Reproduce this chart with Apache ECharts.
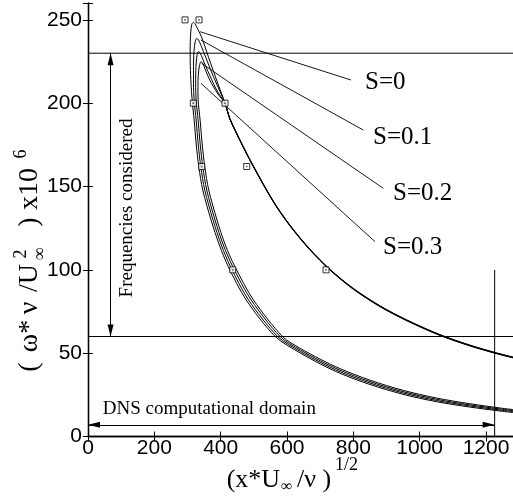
<!DOCTYPE html>
<html>
<head>
<meta charset="utf-8">
<script src="https://cdn.jsdelivr.net/npm/echarts@6/dist/echarts.min.js"></script>
<style>
html, body { margin: 0; padding: 0; background: #fff; }
#chart { width: 513px; height: 497px; }
</style>
</head>
<body>
<div id="chart"></div>
<script>
// Axis ticks
const xTickValues = [0, 200, 400, 600, 800, 1000, 1200];
const yTickValues = [0, 50, 100, 150, 200, 250];
const xMax = 1300;
const yMax = 260;

// Neutral curves: each runs up the lower branch, round the nose and back down the upper branch
const curveS0 = [
  [1300,14.05],[1250,15.1],[1150,17.7],[1050,20.9],[950,25.3],[850,31.2],[760,37.9],[700,43.6],[640,50.1],
  [565,59.9],[477,81.9],[423,101.9],[396,114.9],[371,129.9],[346,147.9],[334,161.9],[326.5,174.9],[320,189.9],
  [314,201.9],[310.5,212],[308.5,222],[308,232],[309.5,242],[313,247.3],[317.5,248.5],[323,247.5],[332,244],
  [342.8,239.5],[362.7,228],[392.9,211],[413,200.25],[428,190.75],[460,177.25],[497.5,162.75],[558.7,141.25],
  [610,126.55],[669,112.45],[730,100.25],[800,88.85],[880,78.45],[960,70.05],[1061,61.15],[1150,54.95],[1227,50.45],[1300,46.75]
];
const curveS01 = [
  [1300,14.62],[1250,15.7],[1150,18.37],[1050,21.63],[950,26.1],[850,32.07],[760,38.83],[700,44.53],[640,51.03],
  [572.3,59.9],[484,81.9],[429.5,101.9],[402,114.9],[377,129.9],[352,147.9],[340,161.9],[332.5,174.9],[326,189.9],
  [320,201.9],[318,212],[318,222],[319.5,231],[323,236.8],[327.7,238.9],[333,238],[341,234.5],[355,227.5],
  [378,216],[398,207],[413,200.08],[428,190.58],[460,177.08],[497.5,162.58],[558.7,141.08],[610,126.38],
  [669,112.28],[730,100.08],[800,88.68],[880,78.28],[960,69.88],[1061,60.98],[1150,54.78],[1227,50.28],[1300,46.58]
];
const curveS02 = [
  [1300,15.18],[1250,16.3],[1150,19.03],[1050,22.37],[950,26.9],[850,32.93],[760,39.77],[700,45.47],[640,51.97],
  [579.7,59.9],[492,81.9],[436.5,101.9],[408,114.9],[383,129.9],[358,147.9],[346,161.9],[338.5,174.9],[332,189.9],
  [326,201.9],[324.5,212],[325.5,222],[328.5,228.5],[332.6,230.9],[337.5,230.3],[346,226.5],[362,219],
  [385,209],[400,204],[413,199.92],[428,190.42],[460,176.92],[497.5,162.42],[558.7,140.92],[610,126.22],
  [669,112.12],[730,99.92],[800,88.52],[880,78.12],[960,69.72],[1061,60.82],[1150,54.62],[1227,50.12],[1300,46.42]
];
const curveS03 = [
  [1300,15.75],[1250,16.9],[1150,19.7],[1050,23.1],[950,27.7],[850,33.8],[760,40.7],[700,46.4],[640,52.9],
  [587,59.9],[499,81.9],[443,101.9],[414,114.9],[389,129.9],[364,147.9],[352,161.9],[344.5,174.9],[338,189.9],
  [332,201.9],[331.5,210],[332.5,217],[336,222.5],[340.7,224.9],[345.5,224.2],[353,220.5],[368,213.5],
  [390,206],[413,199.75],[428,190.25],[460,176.75],[497.5,162.25],[558.7,140.75],[610,126.05],[669,111.95],
  [730,99.75],[800,88.35],[880,77.95],[960,69.55],[1061,60.65],[1150,54.45],[1227,49.95],[1300,46.25]
];
const curves = [curveS0, curveS01, curveS02, curveS03];
const curveNames = ['S=0', 'S=0.1', 'S=0.2', 'S=0.3'];

// Leader lines from each curve to its name
const leaderS0 = [[337.7,242.9],[792.9,213.9]];
const leaderS01 = [[340.7,237.9],[830,183.9]];
const leaderS02 = [[342.8,223.9],[890.3,148.9]];
const leaderS03 = [[340.7,211.9],[865.3,116.9]];
const leaders = [leaderS0, leaderS01, leaderS02, leaderS03];

// DNS sample points
const dnsPoints = [
  [292.5,250],[334.7,250],[317.5,200],[413,200],[342.8,162],[478.5,162],[436.3,100],[717.6,100]
];

// Frequency band and DNS domain extent
const bandLow = 60;
const bandHigh = 230;
const bandArrowX = 68;
const domainEnd = 1226;
const domainArrowY = 7;
const domainMarkTop = 100;

// Name label placement (pixels)
const nameSpots = [[365, 82], [373, 137], [393, 193], [383, 247]];

const black = '#000';
const serif = '"Liberation Serif", "Times New Roman", serif';
const sans = '"Liberation Sans", Arial, sans-serif';

const chart = echarts.init(document.getElementById('chart'), null, { renderer: 'canvas' });

const series = [];
curves.forEach((c, i) => {
  series.push({
    name: curveNames[i], type: 'line', data: c, showSymbol: false, smooth: 0.3,
    lineStyle: { color: black, width: 1 }, z: 3
  });
});
leaders.forEach(l => {
  series.push({
    type: 'line', data: l, showSymbol: false,
    lineStyle: { color: black, width: 0.9 }, z: 3
  });
});
series.push({
  type: 'line', data: [[0, bandHigh], [xMax, bandHigh]], showSymbol: false,
  lineStyle: { color: black, width: 1 }, z: 2
});
series.push({
  type: 'line', data: [[0, bandLow], [xMax, bandLow]], showSymbol: false,
  lineStyle: { color: black, width: 1 }, z: 2
});
series.push({
  type: 'line', data: [[domainEnd, 0], [domainEnd, domainMarkTop]], showSymbol: false,
  lineStyle: { color: black, width: 1 }, z: 2
});
series.push({
  type: 'line', data: [], z: 2,
  markLine: {
    silent: true, animation: false,
    symbol: ['triangle', 'triangle'], symbolSize: [6, 12],
    symbolOffset: [[0, 6], [0, 6]],
    lineStyle: { color: black, width: 1, type: 'solid' },
    itemStyle: { color: black },
    label: { show: false },
    emphasis: { disabled: true },
    data: [
      [{ coord: [bandArrowX, bandHigh] }, { coord: [bandArrowX, bandLow] }],
      [{ coord: [0, domainArrowY] }, { coord: [domainEnd, domainArrowY] }]
    ]
  }
});
series.push({
  type: 'scatter', data: dnsPoints, symbol: 'rect', symbolSize: 6,
  itemStyle: { color: '#fff', borderColor: black, borderWidth: 1 }, z: 5
});
series.push({
  type: 'scatter', data: dnsPoints, symbol: 'rect', symbolSize: 1.6,
  itemStyle: { color: '#444' }, z: 6
});

const xLabelFmt = v => (xTickValues.indexOf(v) >= 0 ? String(v) : '');
const yLabelFmt = v => (yTickValues.indexOf(v) >= 0 ? String(v) : '');

const axisCommon = {
  type: 'value', interval: 50, min: 0,
  axisLine: { show: true, lineStyle: { color: black, width: 1.3 } },
  axisTick: { show: true, inside: true, length: 5, lineStyle: { color: black, width: 1 } },
  splitLine: { show: false }
};

const graphic = [];
curveNames.forEach((n, i) => {
  graphic.push({
    type: 'text', x: nameSpots[i][0], y: nameSpots[i][1], silent: true,
    style: { text: n, font: '25px ' + serif, fill: black, align: 'left', verticalAlign: 'middle' }
  });
});
graphic.push({
  type: 'text', x: 127.5, y: 208, rotation: Math.PI / 2, silent: true,
  style: { text: 'Frequencies considered', font: '19px ' + serif, fill: black, align: 'center', verticalAlign: 'middle' }
});
graphic.push({
  type: 'text', x: 102.7, y: 409, silent: true,
  style: { text: 'DNS computational domain', font: '19px ' + serif, fill: black, align: 'left', verticalAlign: 'middle' }
});

// x-axis title: (x*U∞ /ν )^1/2
const xTitle = [
  { t: '(x*U', x: 226.7, y: 480, f: 26 },
  { t: '\u221E', x: 281, y: 487, f: 16 },
  { t: '/\u03BD )', x: 297, y: 480, f: 26 },
  { t: '1/2', x: 335, y: 465, f: 18 }
];
xTitle.forEach(p => graphic.push({
  type: 'text', x: p.x, y: p.y, silent: true,
  style: { text: p.t, font: p.f + 'px ' + serif, fill: black, align: 'left', verticalAlign: 'middle' }
}));

// y-axis title: (ω* ν /U²∞ )x10⁶, reading upwards
const yTitle = [
  { t: '(', x: 30, y: 367, f: 28 },
  { t: '\u03C9*', x: 30, y: 336, f: 28 },
  { t: '\u03BD', x: 30, y: 308, f: 28 },
  { t: '/U', x: 30, y: 278, f: 28 },
  { t: '2', x: 21, y: 254, f: 18 },
  { t: '\u221E', x: 40, y: 254, f: 18 },
  { t: ')', x: 30, y: 222, f: 28 },
  { t: 'x10', x: 30, y: 189, f: 28 },
  { t: '6', x: 21, y: 154, f: 18 }
];
yTitle.forEach(p => graphic.push({
  type: 'text', x: p.x, y: p.y, rotation: Math.PI / 2, silent: true,
  style: { text: p.t, font: p.f + 'px ' + serif, fill: black, align: 'center', verticalAlign: 'middle' }
}));

chart.setOption({
  animation: false,
  backgroundColor: '#fff',
  grid: { left: 88, top: 3.2, right: -6.2, bottom: 60.5, containLabel: false, outerBoundsMode: 'none' },
  xAxis: [
    Object.assign({}, axisCommon, {
      position: 'bottom', max: xMax, interval: 200,
      axisLabel: { show: true, formatter: xLabelFmt, margin: 1, color: black, fontSize: 21, fontFamily: sans }
    }),
    Object.assign({}, axisCommon, {
      position: 'top', max: xMax, interval: 200,
      axisLabel: { show: false }
    })
  ],
  yAxis: [
    Object.assign({}, axisCommon, {
      position: 'left', max: yMax,
      axisLabel: { show: true, formatter: yLabelFmt, margin: 6, color: black, fontSize: 21, fontFamily: sans }
    }),
    Object.assign({}, axisCommon, {
      position: 'right', max: yMax,
      axisLabel: { show: false }
    })
  ],
  series: series,
  graphic: graphic
});
</script>
</body>
</html>
